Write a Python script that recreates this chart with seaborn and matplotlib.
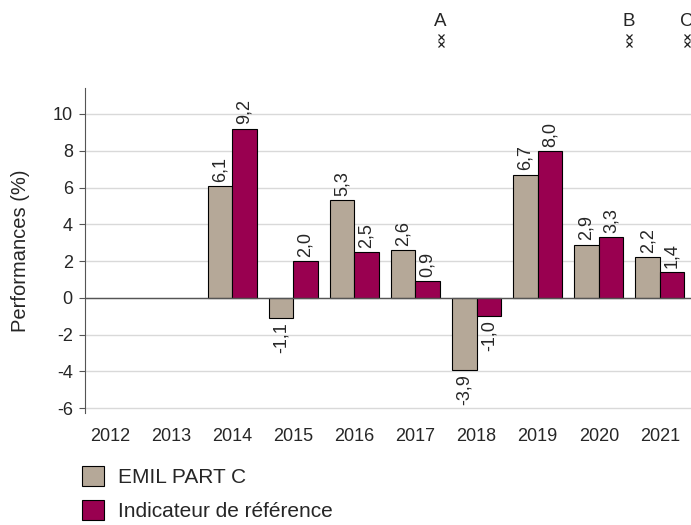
import matplotlib
matplotlib.use("Agg")
import matplotlib.pyplot as plt
import seaborn as sns
import numpy as np
import pandas as pd

# Données
annees = ["2012", "2013", "2014", "2015", "2016", "2017", "2018", "2019", "2020", "2021"]
emil = [np.nan, np.nan, 6.1, -1.1, 5.3, 2.6, -3.9, 6.7, 2.9, 2.2]
indicateur = [np.nan, np.nan, 9.2, 2.0, 2.5, 0.9, -1.0, 8.0, 3.3, 1.4]
series = ["EMIL PART C", "Indicateur de référence"]
couleurs = ["#b5a898", "#990050"]

# Repères en haut (position en index de catégorie)
reperes = ["A", "B", "C"]
reperes_x = [5.41, 8.49, 9.44]

df = pd.DataFrame({
    "Année": annees * 2,
    "Valeur": emil + indicateur,
    "Série": [series[0]] * len(annees) + [series[1]] * len(annees),
})

sns.set_style("white")
plt.rcParams["font.family"] = ["Liberation Sans", "DejaVu Sans"]
plt.rcParams["font.size"] = 13
plt.rcParams["axes.unicode_minus"] = False

fig = plt.figure(figsize=(6.91, 5.25), dpi=100)
ax = fig.add_axes([0.123, 0.213, 0.877, 0.619])

sns.barplot(data=df, x="Année", y="Valeur", hue="Série", order=annees,
            hue_order=series, palette=couleurs, saturation=1, width=0.8, gap=0,
            edgecolor="black", linewidth=0.8, ax=ax, legend=True, zorder=3)

for c in ax.containers:
    labels = ["" if np.isnan(v) else f"{v:.1f}".replace(".", ",") for v in c.datavalues]
    ax.bar_label(c, labels=labels, rotation=90, padding=3, fontsize=13)

ax.set_xlim(-0.41, 9.51)
ax.set_ylim(-6.27, 11.4)
ax.set_yticks(range(-6, 11, 2))
ax.yaxis.grid(True, color="#d9d9d9", linewidth=1, zorder=0)
ax.set_axisbelow(True)
ax.axhline(0, color="#555555", linewidth=1, zorder=4)

for s in ["top", "right", "bottom"]:
    ax.spines[s].set_visible(False)
ax.spines["left"].set_color("#555555")
ax.tick_params(axis="y", which="both", left=True, length=4.3, color="#555555", labelsize=13, pad=4.5)
ax.tick_params(axis="x", length=0, labelsize=13, pad=11)
ax.set_xlabel("")
ax.set_ylabel("Performances (%)", fontsize=14.5, labelpad=16)

# Repères A, B, C au-dessus du graphique
trans = matplotlib.transforms.blended_transform_factory(ax.transData, fig.transFigure)
for lab, x in zip(reperes, reperes_x):
    ax.text(x, 1 - 21 / 525, lab, transform=trans, ha="center", va="center", fontsize=13.5)
    ax.plot([x, x], [1 - 37 / 525, 1 - 44 / 525], transform=trans, linestyle="none",
            marker="x", markersize=4.5, markeredgewidth=0.9, color="#222222", clip_on=False)

# Légende en bas
handles, labs = ax.get_legend_handles_labels()
ax.get_legend().remove()
fig.legend(handles, labs, loc="upper left", bbox_to_anchor=(0.118, 1 - 466 / 525),
           frameon=False, fontsize=15, handlelength=1.1, handleheight=1.1,
           handletextpad=0.65, labelspacing=0.62, borderpad=0, borderaxespad=0)

fig.savefig("out.png", dpi=100)
